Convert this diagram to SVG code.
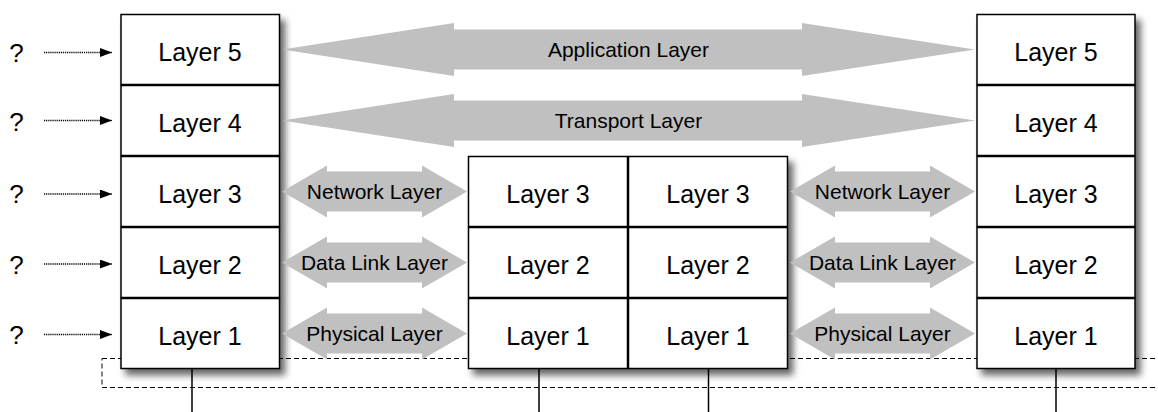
<svg xmlns="http://www.w3.org/2000/svg" xmlns:xlink="http://www.w3.org/1999/xlink" width="1158" height="412" viewBox="0 0 1158 412">
<style>
.box{fill:#fff;stroke:#000;stroke-width:1.5}
.lt{font-family:"Liberation Sans",Arial,Helvetica,sans-serif;font-size:25px;fill:#000;text-anchor:middle}
.q{font-family:"Liberation Sans",Arial,Helvetica,sans-serif;font-size:26px;fill:#000;text-anchor:middle}
.al{font-family:"Liberation Sans",Arial,Helvetica,sans-serif;font-size:21px;fill:#000;text-anchor:middle}
.big{fill:#c0c0c0}
.dot{stroke:#000;stroke-width:1.5;stroke-dasharray:1.2 0.9;fill:none}
.vl{stroke:#000;stroke-width:1.5}
.dash{fill:none;stroke:#000;stroke-width:1;stroke-dasharray:5 3}
</style>
<defs>
<filter id="sh" x="-10%" y="-10%" width="130%" height="130%">
<feDropShadow dx="5" dy="6" stdDeviation="3.5" flood-color="#000" flood-opacity="0.6"/>
</filter>
<marker id="ah" markerWidth="12" markerHeight="9" refX="12" refY="4.5" orient="auto" markerUnits="userSpaceOnUse">
<path d="M0,0 L12,4.5 L0,9 Z" fill="#000"/>
</marker>
<polygon id="small" points="0,0 45,-26 45,-20 140,-20 140,-26 185,0 140,26 140,20 45,20 45,26"/>
</defs>
<rect class="dash" x="102" y="358.5" width="1080" height="29"/>
<g id="left-stack" filter="url(#sh)">
<rect class="box" x="121" y="14.5" width="158.5" height="70"/>
<rect class="box" x="121" y="85.5" width="158.5" height="70"/>
<rect class="box" x="121" y="156.5" width="158.5" height="70"/>
<rect class="box" x="121" y="227.5" width="158.5" height="70"/>
<rect class="box" x="121" y="298.5" width="158.5" height="70"/>
</g>
<g id="mid-stack" filter="url(#sh)">
<rect class="box" x="468.5" y="156.5" width="159" height="70"/>
<rect class="box" x="468.5" y="227.5" width="159" height="70"/>
<rect class="box" x="468.5" y="298.5" width="159" height="70"/>
<rect class="box" x="628.5" y="156.5" width="159" height="70"/>
<rect class="box" x="628.5" y="227.5" width="159" height="70"/>
<rect class="box" x="628.5" y="298.5" width="159" height="70"/>
</g>
<g id="right-stack" filter="url(#sh)">
<rect class="box" x="977" y="14.5" width="158" height="70"/>
<rect class="box" x="977" y="85.5" width="158" height="70"/>
<rect class="box" x="977" y="156.5" width="158" height="70"/>
<rect class="box" x="977" y="227.5" width="158" height="70"/>
<rect class="box" x="977" y="298.5" width="158" height="70"/>
</g>
<g id="node-labels">
<text class="lt" x="200" y="61">Layer 5</text>
<text class="lt" x="200" y="132">Layer 4</text>
<text class="lt" x="200" y="203">Layer 3</text>
<text class="lt" x="200" y="274">Layer 2</text>
<text class="lt" x="200" y="345">Layer 1</text>
<text class="lt" x="548" y="203">Layer 3</text>
<text class="lt" x="548" y="274">Layer 2</text>
<text class="lt" x="548" y="345">Layer 1</text>
<text class="lt" x="708" y="203">Layer 3</text>
<text class="lt" x="708" y="274">Layer 2</text>
<text class="lt" x="708" y="345">Layer 1</text>
<text class="lt" x="1056" y="61">Layer 5</text>
<text class="lt" x="1056" y="132">Layer 4</text>
<text class="lt" x="1056" y="203">Layer 3</text>
<text class="lt" x="1056" y="274">Layer 2</text>
<text class="lt" x="1056" y="345">Layer 1</text>
</g>
<g id="connectors">
<polygon class="big" points="282,49.5 454,23 454,29.5 802,29.5 802,23 975,49.5 802,76 802,69.5 454,69.5 454,76"/>
<polygon class="big" points="282,120.5 454,94 454,100.5 802,100.5 802,94 975,120.5 802,147 802,140.5 454,140.5 454,147"/>
<use xlink:href="#small" class="big" x="282" y="191.5"/>
<use xlink:href="#small" class="big" x="282" y="262.5"/>
<use xlink:href="#small" class="big" x="282" y="333.5"/>
<use xlink:href="#small" class="big" x="790" y="191.5"/>
<use xlink:href="#small" class="big" x="790" y="262.5"/>
<use xlink:href="#small" class="big" x="790" y="333.5"/>
<line class="dot" x1="44" y1="52.5" x2="112" y2="52.5" marker-end="url(#ah)"/>
<line class="dot" x1="44" y1="120.5" x2="112" y2="120.5" marker-end="url(#ah)"/>
<line class="dot" x1="44" y1="194" x2="112" y2="194" marker-end="url(#ah)"/>
<line class="dot" x1="44" y1="264" x2="112" y2="264" marker-end="url(#ah)"/>
<line class="dot" x1="44" y1="334.5" x2="112" y2="334.5" marker-end="url(#ah)"/>
<line class="vl" x1="192" y1="368.5" x2="192" y2="412"/>
<line class="vl" x1="539" y1="368.5" x2="539" y2="412"/>
<line class="vl" x1="708.5" y1="368.5" x2="708.5" y2="412"/>
<line class="vl" x1="1056" y1="368.5" x2="1056" y2="412"/>
</g>
<g id="connector-labels">
<text class="al" x="628.5" y="56.5">Application Layer</text>
<text class="al" x="628.5" y="127.5">Transport Layer</text>
<text class="al" x="374.5" y="198.5">Network Layer</text>
<text class="al" x="374.5" y="269.5">Data Link Layer</text>
<text class="al" x="374.5" y="340.5">Physical Layer</text>
<text class="al" x="882.5" y="198.5">Network Layer</text>
<text class="al" x="882.5" y="269.5">Data Link Layer</text>
<text class="al" x="882.5" y="340.5">Physical Layer</text>
</g>
<g id="questions">
<text class="q" x="16.5" y="62">?</text>
<text class="q" x="16.5" y="131">?</text>
<text class="q" x="16.5" y="203">?</text>
<text class="q" x="16.5" y="274">?</text>
<text class="q" x="16.5" y="344">?</text>
</g>
</svg>
